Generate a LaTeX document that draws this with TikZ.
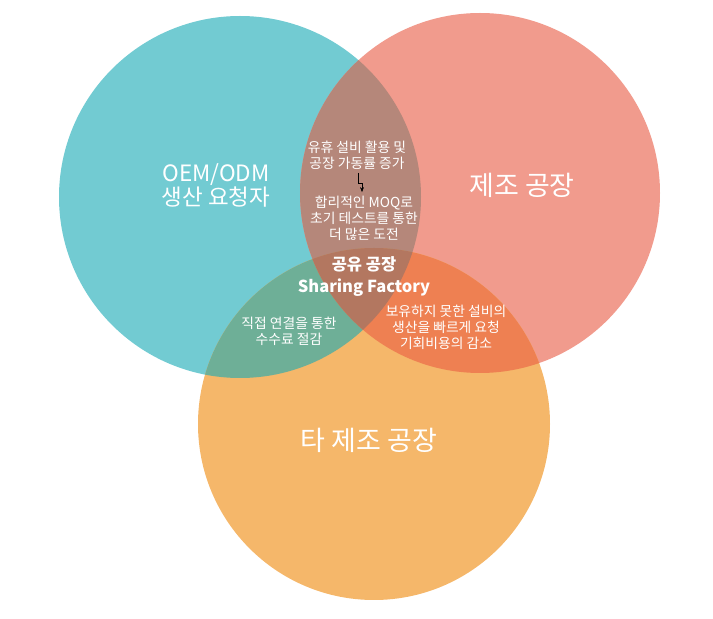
\documentclass[tikz,border=0pt]{standalone}
\usepackage{fontspec}
\setmainfont{Noto Sans CJK KR}
\usetikzlibrary{arrows.meta}

\definecolor{oemteal}{RGB}{114,203,210}
\definecolor{makersalmon}{RGB}{241,155,141}
\definecolor{otherorange}{RGB}{245,183,106}
\definecolor{oemmaker}{RGB}{181,135,122}
\definecolor{oemother}{RGB}{110,175,151}
\definecolor{makerother}{RGB}{238,128,82}
\definecolor{sharecore}{RGB}{179,119,96}

\begin{document}
\begin{tikzpicture}[x=1pt,y=1pt,
  bigtext/.style={text=white,align=center,font=\fontsize{22.5}{24}\selectfont},
  smalltext/.style={text=white,align=center,font=\fontsize{13.8}{16}\selectfont},
  coretext/.style={text=white,align=center,font=\bfseries\fontsize{16.5}{22}\selectfont}]
  \useasboundingbox (0,0) rectangle (713,619);

  \coordinate (oem) at (240,422);
  \coordinate (maker) at (480,426);
  \coordinate (other) at (374,195);

  % circles
  \fill[oemteal] (oem) circle [radius=181];
  \fill[makersalmon] (maker) circle [radius=180];
  \fill[otherorange] (other) circle [radius=176];

  % overlaps
  \begin{scope}
    \clip (oem) circle [radius=181];
    \fill[oemmaker] (maker) circle [radius=180];
    \fill[oemother] (other) circle [radius=176];
  \end{scope}
  \begin{scope}
    \clip (maker) circle [radius=180];
    \fill[makerother] (other) circle [radius=176];
    \clip (oem) circle [radius=181];
    \fill[sharecore] (other) circle [radius=176];
  \end{scope}

  \node[bigtext] (oemlabel) at (216,434) {OEM/ODM\\생산 요청자};
  \node[bigtext,font=\fontsize{27}{30}\selectfont] (makerlabel) at (522,434) {제조 공장};
  \node[bigtext,font=\fontsize{27}{30}\selectfont] (otherlabel) at (369,179) {타 제조 공장};

  \node[smalltext] (idle) at (357,464) {유휴 설비 활용 및\\공장 가동률 증가};
  \node[smalltext] (moq) at (364,401) {합리적인 MOQ로\\초기 테스트를 통한\\더 많은 도전};
  \node[coretext] (core) at (364,342) {공유 공장\\Sharing Factory};
  \node[smalltext] (direct) at (289,288) {직접 연결을 통한\\수수료 절감};
  \node[smalltext] (spare) at (446,292) {보유하지 못한 설비의\\생산을 빠르게 요청\\기회비용의 감소};

  \draw[-{Stealth[length=5pt]},thin] ([xshift=1pt]idle.south) -- ++(0,-10) -| ([xshift=-2pt]moq.north);
\end{tikzpicture}
\end{document}
